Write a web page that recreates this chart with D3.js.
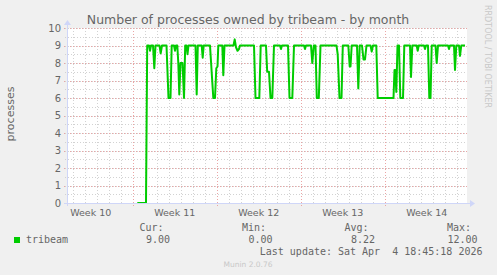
<!DOCTYPE html>
<html>
<head>
<meta charset="utf-8">
<script src="https://cdn.jsdelivr.net/npm/d3@7"></script>
<style>
  html, body { margin: 0; padding: 0; background: #f0f0f0; }
  svg { display: block; }
</style>
</head>
<body>
<div class="chart"></div>
<script>
// time of each sample, in days after 2026-03-01 00:00 UTC
const sampleDays = [
  8.383, 9.108, 9.208, 9.358, 9.442, 9.525, 9.692, 9.8, 9.9,
  10.233, 10.333, 10.442, 10.817, 10.983, 11.15, 11.25, 11.442, 11.525, 11.608,
  11.717, 11.8, 11.883, 11.983, 12.15, 12.275, 12.375, 12.483, 12.567, 12.65,
  13.233, 13.333, 13.425, 13.75, 13.833, 13.917,
  14.442, 14.717, 14.858, 14.967, 15.067, 15.133, 15.467, 15.55, 15.65,
  16.4, 16.5, 16.608, 16.733, 16.858, 16.942,
  18.108, 18.233, 18.55, 18.667, 19.108, 19.208, 19.358, 19.483, 19.633, 19.775,
  20.275, 20.358, 20.442, 20.942, 21.067, 21.3, 21.442,
  22.275, 22.358, 22.442, 22.858, 22.967, 23.092, 23.233, 23.342, 23.508, 23.65,
  24.983, 25.083, 25.233, 25.4, 25.508, 25.967, 26.083, 26.15, 26.25,
  26.692, 26.8, 26.917, 27.108, 27.233, 27.358, 27.483, 27.817, 27.917, 28.025,
  28.3, 28.417, 29.733, 29.817, 29.883, 29.967, 30.067, 30.192, 30.3, 30.525, 30.633,
  31.108, 31.192, 31.3, 31.667, 31.75, 31.833, 32.275, 32.358, 32.442,
  32.608, 32.717, 32.817, 32.917, 33.233, 33.333, 33.442,
  34.275, 34.358, 34.442, 34.775, 34.858, 34.967, 35.192, 35.275, 35.383, 35.692
];
const processCounts = [
  0, 0, 9, 9, 8.7, 9, 9, 7.7, 9,
  9, 8.55, 9, 9, 6, 6, 9, 9, 8.7, 9,
  9, 8, 6.2, 8, 8, 6, 9, 9, 8.5, 9,
  9, 6.2, 9, 9, 8.3, 9,
  9, 6, 6, 7.7, 7.8, 9, 9, 7.3, 9,
  9, 9.35, 8.9, 8.7, 8.8, 9,
  9, 6, 6, 9, 9, 7.5, 7.5, 6, 6, 9,
  9, 8.8, 9, 9, 6, 6, 9,
  9, 8.8, 9, 9, 8, 9, 9, 6, 6, 9,
  9, 8.5, 6, 6, 9, 9, 7.8, 7.8, 9,
  9, 6.55, 9, 9, 8.2, 8.2, 9, 9, 8.65, 9,
  9, 6, 6, 7.6, 7.6, 6.35, 9, 9, 6, 6, 9,
  9, 7.2, 9, 9, 8.7, 9, 9, 8.8, 9,
  9, 6, 6, 9, 9, 8, 9,
  9, 8.8, 9, 9, 7.6, 9, 9, 8.4, 9, 9
];
const domainDays = [2.525, 35.858];
const legendHeaders = ["Cur:", "Min:", "Avg:", "Max:"];
const legendValues = ["9.00", "0.00", "8.22", "12.00"];
const seriesName = "tribeam";
const title = "Number of processes owned by tribeam - by month";
const yLabel = "processes";
const lastUpdate = "Last update: Sat Apr  4 18:45:18 2026";

const base = Date.UTC(2026, 2, 1);
const toDate = d => new Date(base + d * 86400000);
const data = sampleDays.map((d, i) => ({ t: toDate(d), v: processCounts[i] }));

const W = 497, H = 275;
const pLeft = 67, pRight = 467, pTop = 28, pBottom = 203;

const x = d3.scaleUtc().domain(domainDays.map(toDate)).range([pLeft, pRight]);
const y = d3.scaleLinear().domain([0, 10]).range([pBottom, pTop]);

const svg = d3.select('.chart').append('svg')
  .attr('width', W).attr('height', H)
  .style('font-family', "'DejaVu Sans', sans-serif");

svg.append('clipPath').attr('id', 'plotclip')
  .append('rect').attr('x', pLeft).attr('y', pTop - 10)
  .attr('width', pRight - pLeft).attr('height', pBottom - pTop + 10);

svg.append('rect').attr('width', W).attr('height', H).attr('fill', '#f0f0f0');
svg.append('rect').attr('x', pLeft).attr('y', pTop)
  .attr('width', pRight - pLeft).attr('height', pBottom - pTop).attr('fill', '#fff');

// minor grid
const minorColor = '#d2d2d2', majorColor = '#eaa5a5';
const [t0, t1] = x.domain();
svg.append('g').selectAll('line')
  .data(d3.utcDay.range(t0, t1))
  .join('line')
  .attr('x1', d => Math.round(x(d)) + 0.5).attr('x2', d => Math.round(x(d)) + 0.5)
  .attr('y1', pTop).attr('y2', pBottom + 2)
  .attr('stroke', minorColor).attr('stroke-dasharray', '1,2');
svg.append('g').selectAll('line')
  .data(y.ticks(20))
  .join('line')
  .attr('x1', pLeft - 2).attr('x2', pRight)
  .attr('y1', d => Math.round(y(d)) + 0.5).attr('y2', d => Math.round(y(d)) + 0.5)
  .attr('stroke', minorColor).attr('stroke-dasharray', '1,2');

// major grid
svg.append('g').selectAll('line')
  .data(d3.utcMonday.range(t0, t1))
  .join('line')
  .attr('x1', d => Math.round(x(d)) + 0.5).attr('x2', d => Math.round(x(d)) + 0.5)
  .attr('y1', pTop).attr('y2', pBottom + 3)
  .attr('stroke', majorColor).attr('stroke-dasharray', '1,2');
svg.append('g').selectAll('line')
  .data(y.ticks(10))
  .join('line')
  .attr('x1', pLeft - 3).attr('x2', pRight + 2)
  .attr('y1', d => Math.round(y(d)) + 0.5).attr('y2', d => Math.round(y(d)) + 0.5)
  .attr('stroke', majorColor).attr('stroke-dasharray', '1,2');

// axes with arrows
const axisColor = '#cfd6f8';
svg.append('line').attr('x1', pLeft - 3).attr('x2', pRight + 4)
  .attr('y1', pBottom + 0.5).attr('y2', pBottom + 0.5).attr('stroke', axisColor);
svg.append('line').attr('x1', pLeft + 0.5).attr('x2', pLeft + 0.5)
  .attr('y1', pBottom + 3).attr('y2', pTop - 5).attr('stroke', axisColor);
svg.append('path').attr('d', `M${pRight + 3},${pBottom - 3}L${pRight + 8},${pBottom + 0.5}L${pRight + 3},${pBottom + 4}Z`)
  .attr('fill', axisColor);
svg.append('path').attr('d', `M${pLeft - 3},${pTop - 3}L${pLeft + 0.5},${pTop - 8}L${pLeft + 4},${pTop - 3}Z`)
  .attr('fill', axisColor);

// tick labels
svg.append('g').selectAll('text')
  .data(y.ticks(10))
  .join('text')
  .attr('x', 61).attr('y', d => y(d) + 3.5)
  .attr('text-anchor', 'end').attr('font-size', 10).attr('fill', '#666')
  .text(d => d);

const weekFmt = d3.utcFormat('%V');
svg.append('g').selectAll('text')
  .data(d3.utcMonday.range(d3.utcMonday.floor(t0), t1)
    .filter(m => d3.utcHour.offset(m, 84) > t0 && d3.utcHour.offset(m, 84) < t1))
  .join('text')
  .attr('x', m => x(d3.utcHour.offset(m, 84)))
  .attr('y', 216)
  .attr('text-anchor', 'middle').attr('font-size', 9.5).attr('fill', '#666')
  .text(m => 'Week ' + +weekFmt(m));

// series line, clipped to the canvas so the zero part shows only half
const line = d3.line().x(d => x(d.t)).y(d => y(d.v));
svg.append('path').datum(data)
  .attr('clip-path', 'url(#plotclip)')
  .attr('d', line)
  .attr('fill', 'none').attr('stroke', '#00cc00')
  .attr('stroke-width', 2).attr('stroke-linejoin', 'round');

// title and labels
svg.append('text').attr('x', 248).attr('y', 24)
  .attr('text-anchor', 'middle').attr('font-size', 12.5).attr('fill', '#666')
  .text(title);
svg.append('text').attr('transform', 'translate(14,114) rotate(-90)')
  .attr('text-anchor', 'middle').attr('font-size', 11).attr('fill', '#666')
  .text(yLabel);
svg.append('text').attr('transform', 'translate(485,5) rotate(90)')
  .attr('text-anchor', 'start').attr('font-size', 8).attr('fill', '#c8c8c8')
  .text('RRDTOOL / TOBI OETIKER');

// legend
const mono = "'DejaVu Sans Mono', monospace";
svg.append('rect').attr('x', 14).attr('y', 237).attr('width', 6).attr('height', 6)
  .attr('fill', '#00cc00');
svg.append('text').attr('x', 26).attr('y', 243)
  .attr('font-family', mono).attr('font-size', 10).attr('fill', '#666')
  .text(seriesName);
const headEnds = [163.5, 266, 368.5, 471];
svg.append('g').selectAll('text')
  .data(legendHeaders)
  .join('text')
  .attr('x', (d, i) => headEnds[i]).attr('y', 231)
  .attr('text-anchor', 'end').attr('font-family', mono).attr('font-size', 10).attr('fill', '#666')
  .text(d => d);
svg.append('g').selectAll('text')
  .data(legendValues)
  .join('text')
  .attr('x', (d, i) => headEnds[i] + 6.5).attr('y', 243)
  .attr('text-anchor', 'end').attr('font-family', mono).attr('font-size', 10).attr('fill', '#666')
  .text(d => d);
svg.append('text').attr('x', 482.5).attr('y', 255)
  .attr('text-anchor', 'end').attr('font-family', mono).attr('font-size', 10).attr('fill', '#666')
  .style('white-space', 'pre')
  .text(lastUpdate);
svg.append('text').attr('x', 248).attr('y', 267)
  .attr('text-anchor', 'middle').attr('font-size', 7.5).attr('fill', '#c8c8c8')
  .text('Munin 2.0.76');
</script>
</body>
</html>
